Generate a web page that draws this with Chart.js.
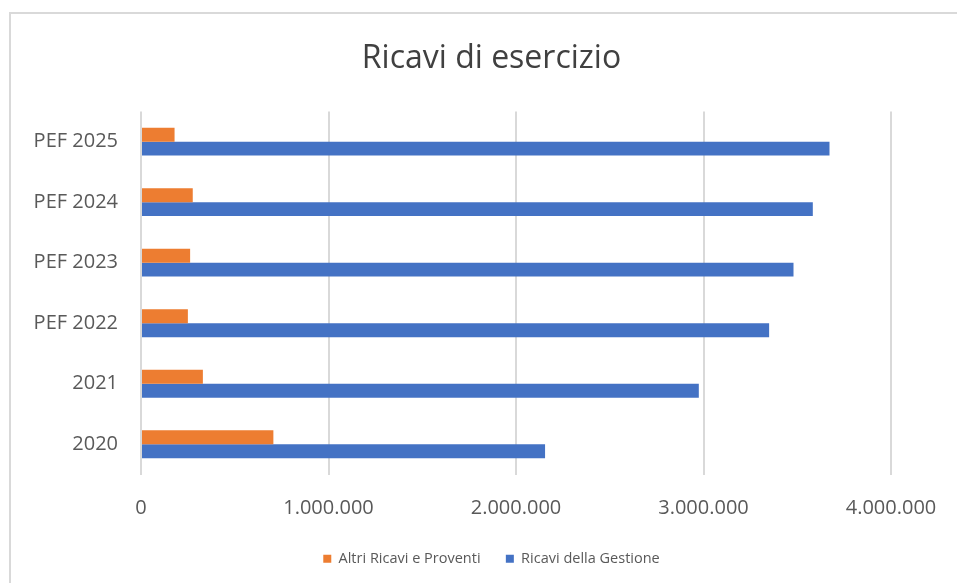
<!DOCTYPE html>
<html lang="it">
<head>
  <meta charset="UTF-8">
  <title>Ricavi di esercizio</title>
  <script src="https://cdn.jsdelivr.net/npm/chart.js"></script>
  <style>
    body { margin: 0; overflow: hidden; background: #fff; }
    #wrap { position: relative; width: 957px; height: 583px; }
    #frame { position: absolute; left: 9px; top: 12px; width: 960px; height: 590px;
             border-left: 2px solid #d9d9d9; border-top: 2px solid #d9d9d9; pointer-events: none; }
  </style>
</head>
<body>
  <div id="wrap">
    <canvas id="ricaviChart" width="957" height="583"></canvas>
    <div id="frame"></div>
  </div>

  <script>
// dati
const anni = ['2020', '2021', 'PEF 2022', 'PEF 2023', 'PEF 2024', 'PEF 2025'];
const altriRicavi = [706000, 330000, 250000, 262000, 276000, 179000];
const ricaviGestione = [2155000, 2975000, 3350000, 3480000, 3583000, 3672000];
const asseMax = 4000000;
const asseStep = 1000000;

// formato italiano 1.000.000
function formatIt(v) {
  return String(Math.round(v)).replace(/\B(?=(\d{3})+(?!\d))/g, '.');
}

const ctx = document.getElementById('ricaviChart').getContext('2d');
new Chart(ctx, {
  type: 'bar',
  data: {
    labels: anni,
    datasets: [{
      label: 'Altri Ricavi e Proventi   ',
      data: altriRicavi,
      backgroundColor: '#ed7d31'
    }, {
      label: 'Ricavi della Gestione',
      data: ricaviGestione,
      backgroundColor: '#4472c4'
    }]
  },
  options: {
    indexAxis: 'y',
    responsive: false,
    animation: false,
    layout: { padding: { left: 26, right: 0, top: 0, bottom: 7 } },
    datasets: { bar: { categoryPercentage: 0.46, barPercentage: 1 } },
    plugins: {
      title: {
        display: true,
        text: 'Ricavi di esercizio',
        color: '#404040',
        font: { family: 'Open Sans', size: 32, weight: 'normal' },
        padding: { top: 40, bottom: 33 }
      },
      legend: {
        position: 'bottom',
        labels: {
          color: '#595959',
          font: { family: 'Open Sans', size: 14.5 },
          boxWidth: 8,
          boxHeight: 8,
          padding: 14
        }
      },
      tooltip: { enabled: false }
    },
    scales: {
      x: {
        min: 0,
        max: asseMax,
        ticks: {
          stepSize: asseStep,
          color: '#595959',
          font: { family: 'Open Sans', size: 20 },
          padding: 22,
          callback: v => formatIt(v)
        },
        grid: { color: '#d9d9d9', lineWidth: 2, drawTicks: false },
        border: { display: false },
        afterFit: s => { s.paddingRight = 66; s.paddingLeft = 0; s.height = s.height - 5; }
      },
      y: {
        reverse: true,
        ticks: {
          color: '#595959',
          font: { family: 'Open Sans', size: 20 },
          padding: 23
        },
        grid: { display: false, drawTicks: false },
        border: { display: false },
        afterFit: s => { s.width = 115; }
      }
    }
  }
});
  </script>
</body>
</html>
